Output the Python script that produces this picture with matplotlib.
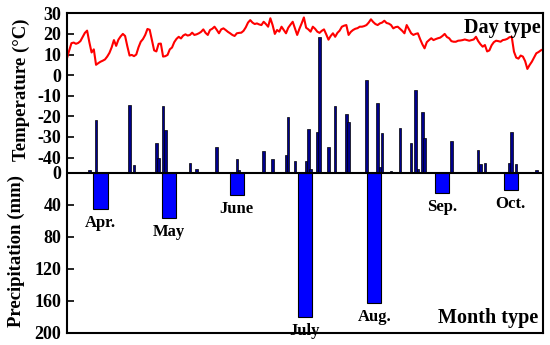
import numpy as np
import matplotlib
matplotlib.use("Agg")
import matplotlib.pyplot as plt

plt.rcParams['font.family'] = ['Liberation Serif', 'DejaVu Serif']
plt.rcParams['font.weight'] = 'bold'
plt.rcParams['axes.unicode_minus'] = False

# Daily mean temperature (°C), 1 April .. 31 October
temperature = [
    8.2, 12, 15.5, 15.8, 15.2, 15.6, 16.5, 18.5, 20.5, 21.6,
    16, 11, 12.5, 5, 5.8, 6.5, 7, 7.6, 9, 10.8,
    13.5, 17, 14.2, 17.2, 18.8, 20, 19, 14, 9.5, 9.8,
    9.2, 10, 13.5, 16.2, 17.5, 19.5, 22.4, 22, 17, 12,
    11.5, 15.2, 15.3, 9, 9.2, 9.8, 12.5, 13.4, 16, 17.6,
    18.6, 17.8, 19.2, 19.8, 19.2, 19.5, 20.6, 19.5, 19.8, 20.3,
    21, 22.2, 20.5, 19.5, 21.9, 22.5, 23.5, 22, 20.3, 22.2,
    22.7, 21.9, 21, 20.3, 19.5, 19, 20.3, 20.5, 20.6, 21.5,
    23.2, 25.5, 26.7, 25.5, 24.8, 25.1, 24.6, 24.3, 25.9, 24.8,
    23.5, 27.6, 24.3, 20, 21.9, 21.1, 23.5, 21.9, 20.3, 23,
    24.5, 25.9, 22.7, 19.5, 22.5, 25.1, 28, 23, 22.2, 21.1,
    23.5, 22.5, 21.1, 20.5, 21.5, 22.2, 19.8, 17.2, 19, 20.3,
    18.6, 20.5, 21.6, 23.5, 24, 24.3, 19.5, 21, 21.9, 22.5,
    22.8, 23.5, 23.5, 23.8, 24.3, 25.5, 27.1, 25.8, 24.8, 24.3,
    25.1, 25.5, 26.4, 25.3, 25, 24.3, 22.7, 23.3, 23.5, 22.5,
    21.5, 20.3, 24.3, 22.3, 20.3, 19.5, 20, 20.3, 17.5, 15,
    13, 16, 17, 17.9, 17, 17.5, 17.9, 18.2, 19, 20,
    18.5, 17.9, 16.5, 16.2, 16.2, 16.7, 16.8, 17, 17.3, 17,
    16.7, 17, 17.3, 18.6, 16.5, 15, 13.8, 14.6, 11.5, 12,
    14.5, 16, 16.7, 16.5, 16.2, 17, 17.2, 17.6, 18.4, 18.6,
    11.4, 8.5, 8, 9.5, 9, 6.8, 3, 4.9, 6.5, 8.5,
    10.6, 11.2, 12, 12.5,
]

# Daily precipitation events (day index from 1 April, mm)
rain_days = [10, 13, 28, 30, 40, 41, 43, 44, 55, 58, 67, 69, 73, 76, 77, 87, 88,
             92, 98, 99, 102, 107, 108, 109, 112, 113, 117, 120, 125, 126, 134,
             139, 140, 141, 142, 145, 149, 154, 156, 157, 159, 160, 162, 172,
             184, 185, 187, 197, 198, 199, 201, 210]
rain_mm = [1.2, 26.2, 33.7, 3.7, 14.6, 7.4, 33.2, 21.2, 4.6, 1.7, 12.9, 0.5, 0.3,
           6.6, 1.5, 0.5, 10.9, 6.6, 8.75, 27.9, 5.9, 5.9, 21.6, 1.8, 20.2, 67.6,
           12.6, 33.2, 29.2, 25.4, 46.2, 34.6, 2.9, 19.6, 0.5, 0.9, 22.1, 15.0,
           41.2, 2.0, 30.4, 17.4, 0.5, 15.8, 11.25, 4.25, 4.6, 0.5, 4.9, 20.1,
           4.25, 1.25]

# Monthly precipitation (mm)
months = ['Apr.', 'May', 'June', 'July', 'Aug.', 'Sep.', 'Oct.']
month_len = [30, 31, 30, 31, 31, 30, 31]
month_precip = [45.7, 57, 27.7, 180, 162.7, 25.6, 22.2]

temp_ticks = [30, 20, 10, 0, -10, -20, -30, -40]
precip_ticks = [0, 40, 80, 120, 160, 200]

days = np.arange(len(temperature))
starts = np.concatenate([[0], np.cumsum(month_len)[:-1]])
mids = starts + np.array(month_len) / 2.0

fig = plt.figure(figsize=(5.5, 3.45), dpi=100)
pos = [0.1218, 0.0348, 0.8655, 0.9266]

# temperature axis
ax_t = fig.add_axes(pos)
ax_t.plot(days, temperature, color='red', lw=1.5)
ax_t.set_xlim(0, 213)
ax_t.set_ylim(-125.2, 30)
ax_t.set_yticks(temp_ticks)
ax_t.set_yticklabels([str(t) for t in temp_ticks])
ax_t.set_xticks([])
ax_t.tick_params(axis='y', direction='in', length=5, width=1.2, labelsize=13, pad=4)
for s in ax_t.spines.values():
    s.set_linewidth(1.5)
ax_t.text(0.995, 0.985, 'Day type', transform=ax_t.transAxes, ha='right', va='top',
          fontsize=14.5, fontweight='bold')
ax_t.text(0.99, 0.015, 'Month type', transform=ax_t.transAxes, ha='right', va='bottom',
          fontsize=14.5, fontweight='bold')

# daily precipitation axis (bars upward from baseline)
ax_d = fig.add_axes(pos, frameon=False)
ax_d.bar(rain_days, rain_mm, width=1.1, color='#00008b', edgecolor='black', lw=0.5)
ax_d.set_xlim(0, 213)
ax_d.set_ylim(-80.25, 79.6)
ax_d.axis('off')

# monthly precipitation axis (bars downward)
ax_m = fig.add_axes(pos, frameon=False)
ax_m.bar(mids, month_precip, width=6.3, color='#0000ff', edgecolor='black', lw=0.8)
ax_m.axhline(0, color='black', lw=1.5)
ax_m.set_xlim(0, 213)
ax_m.set_ylim(200, -198.4)
ax_m.set_yticks(precip_ticks)
ax_m.set_yticklabels([str(p) for p in precip_ticks])
ax_m.set_xticks([])
ax_m.tick_params(axis='y', direction='in', length=5, width=1.2, labelsize=13, pad=4)
for m, x, v in zip(months, mids, month_precip):
    ax_m.annotate(m, xy=(x, v), xytext=(0, -10), textcoords='offset points',
                  ha='center', va='center', fontsize=12, fontweight='bold')

fig.text(21 / 550, 1 - 90 / 345, 'Temperature (°C)', rotation=90, ha='center',
         va='center', fontsize=13.5, fontweight='bold')
fig.text(16 / 550, 1 - 251 / 345, 'Precipitation (mm)', rotation=90, ha='center',
         va='center', fontsize=13.5, fontweight='bold')

fig.savefig('out.png', dpi=100)
